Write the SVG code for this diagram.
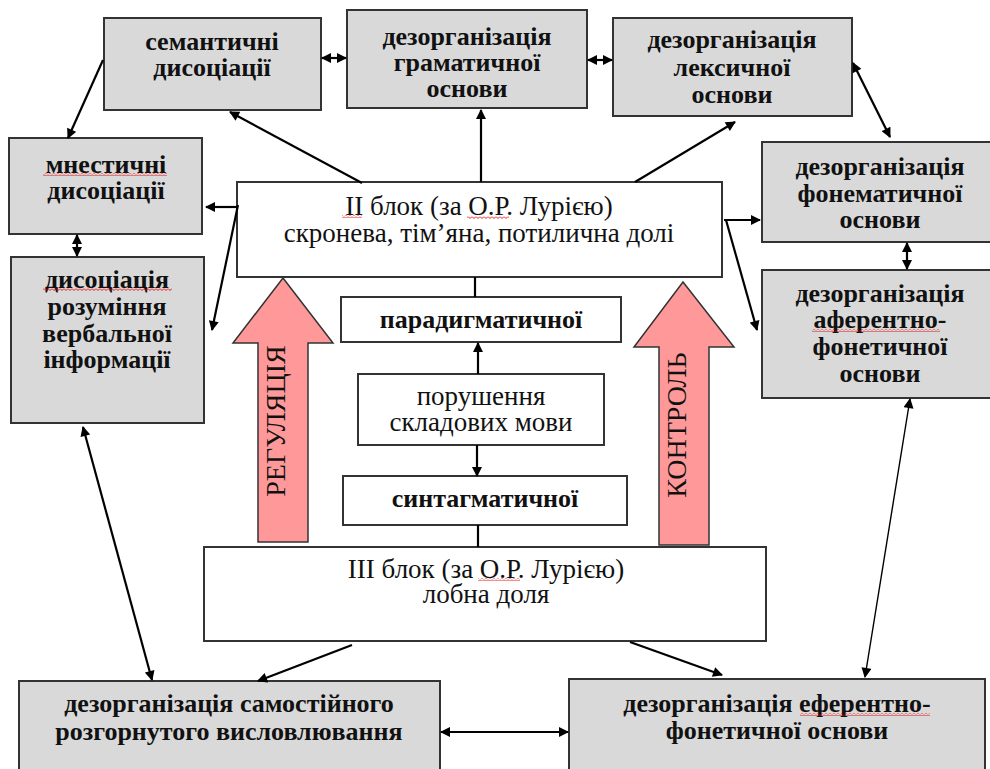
<svg xmlns="http://www.w3.org/2000/svg" width="990" height="769" viewBox="0 0 990 769">
<defs>
<marker id="ah" viewBox="0 0 10 10" refX="9" refY="5" markerWidth="11" markerHeight="10" markerUnits="userSpaceOnUse" orient="auto-start-reverse"><path d="M0,0 L10,5 L0,10 z" fill="#000"/></marker>
<pattern id="wave" width="4" height="3" patternUnits="userSpaceOnUse"><path d="M0,0.5 L2,2.5 L4,0.5" stroke="#e00" stroke-width="0.9" fill="none"/></pattern>
</defs>
<style>
.g{fill:#d9d9d9;stroke:#333;stroke-width:2}
.w{fill:#fff;stroke:#333;stroke-width:2}
.big{fill:#ff9999;stroke:#333;stroke-width:1.5}
.c line{stroke:#000;stroke-width:2.2;fill:none}
.c .thin{stroke-width:1.4}
.wv{fill:url(#wave)}
</style>

<g id="reg-arrow"><polygon class="big" points="283,278 333,343 308,343 308,542 258,542 258,343 233,343"/><text style="font-family:'Liberation Serif',serif;font-size:28px" fill="#111" text-anchor="middle" transform="translate(285,421) rotate(-90)">РЕГУЛЯЦІЯ</text></g>
<g id="ctrl-arrow"><polygon class="big" points="683,282 734,347 709,347 709,545 659,545 659,347 634,347"/><text style="font-family:'Liberation Serif',serif;font-size:28px" fill="#111" text-anchor="middle" transform="translate(686,425) rotate(-90)">КОНТРОЛЬ</text></g>

<g id="semantic" style="font-family:'Liberation Serif',serif;font-weight:bold;font-size:26px" fill="#111" text-anchor="middle"><rect class="g" x="104" y="18" width="217" height="92"/><text x="212" y="50">семантичні</text><text x="212" y="76">дисоціації</text></g>
<g id="grammar" style="font-family:'Liberation Serif',serif;font-weight:bold;font-size:26px" fill="#111" text-anchor="middle"><rect class="g" x="347" y="10" width="240" height="98"/><text x="467" y="45">дезорганізація</text><text x="467" y="71">граматичної</text><text x="467" y="97">основи</text></g>
<g id="lexical" style="font-family:'Liberation Serif',serif;font-weight:bold;font-size:26px" fill="#111" text-anchor="middle"><rect class="g" x="613" y="18" width="239" height="98"/><text x="732" y="48">дезорганізація</text><text x="732" y="76">лексичної</text><text x="732" y="103">основи</text></g>
<g id="mnestic" style="font-family:'Liberation Serif',serif;font-weight:bold;font-size:26px" fill="#111" text-anchor="middle"><rect class="g" x="9" y="138" width="193" height="96"/><text x="106" y="173">мнестичні</text><text x="106" y="199">дисоціації</text><rect class="wv" x="43" y="173" width="124" height="3"/></g>
<g id="comprehension" style="font-family:'Liberation Serif',serif;font-weight:bold;font-size:26px" fill="#111" text-anchor="middle"><rect class="g" x="11" y="257" width="193" height="166"/><text x="107" y="288">дисоціація</text><text x="107" y="315">розуміння</text><text x="107" y="342">вербальної</text><text x="107" y="368">інформації</text><rect class="wv" x="43" y="288" width="129" height="3"/></g>
<g id="phonematic" style="font-family:'Liberation Serif',serif;font-weight:bold;font-size:26px" fill="#111" text-anchor="middle"><rect class="g" x="762" y="142" width="240" height="100"/><text x="880" y="175">дезорганізація</text><text x="880" y="202">фонематичної</text><text x="880" y="228">основи</text></g>
<g id="afferent" style="font-family:'Liberation Serif',serif;font-weight:bold;font-size:26px" fill="#111" text-anchor="middle"><rect class="g" x="762" y="270" width="240" height="128"/><text x="880" y="302">дезорганізація</text><text x="880" y="328">аферентно-</text><text x="880" y="355">фонетичної</text><text x="880" y="382">основи</text><rect class="wv" x="812" y="329" width="128" height="3"/></g>
<g id="block2" style="font-family:'Liberation Serif',serif;font-size:27px" fill="#111" text-anchor="middle"><rect class="w" x="237" y="182" width="485" height="95"/><text x="479" y="215">II блок (за О.Р. Лурією)</text><text x="479" y="242">скронева, тім’яна, потилична долі</text><rect class="wv" x="342" y="215" width="20" height="3"/><rect class="wv" x="467" y="216" width="42" height="3"/></g>
<g id="paradigm" style="font-family:'Liberation Serif',serif;font-weight:bold;font-size:26px" fill="#111" text-anchor="middle"><rect class="w" x="341" y="297" width="280" height="45"/><text x="481" y="328">парадигматичної</text></g>
<g id="components" style="font-family:'Liberation Serif',serif;font-size:27px" fill="#111" text-anchor="middle"><rect class="w" x="358" y="374" width="246" height="71"/><text x="481" y="405">порушення</text><text x="481" y="431">складових мови</text></g>
<g id="syntagm" style="font-family:'Liberation Serif',serif;font-weight:bold;font-size:26px" fill="#111" text-anchor="middle"><rect class="w" x="343" y="476" width="284" height="49"/><text x="485" y="507">синтагматичної</text></g>
<g id="block3" style="font-family:'Liberation Serif',serif;font-size:27px" fill="#111" text-anchor="middle"><rect class="w" x="204" y="547" width="562" height="94"/><text x="486" y="578">III блок (за О.Р. Лурією)</text><text x="486" y="603">лобна доля</text><rect class="wv" x="478" y="578" width="42" height="3"/></g>
<g id="utterance" style="font-family:'Liberation Serif',serif;font-weight:bold;font-size:26px" fill="#111" text-anchor="middle"><rect class="g" x="19" y="681" width="421" height="100"/><text x="229" y="712">дезорганізація самостійного</text><text x="229" y="740">розгорнутого висловлювання</text></g>
<g id="efferent" style="font-family:'Liberation Serif',serif;font-weight:bold;font-size:26px" fill="#111" text-anchor="middle"><rect class="g" x="569" y="679" width="416" height="100"/><text x="777" y="712">дезорганізація еферентно-</text><text x="777" y="739">фонетичної основи</text><rect class="wv" x="800" y="713" width="130" height="3"/></g>

<g id="connectors" class="c">
<line x1="322" y1="58" x2="346" y2="58" marker-start="url(#ah)" marker-end="url(#ah)"/>
<line x1="588" y1="60" x2="612" y2="60" marker-start="url(#ah)" marker-end="url(#ah)"/>
<line x1="853" y1="63" x2="890" y2="137" marker-start="url(#ah)" marker-end="url(#ah)"/>
<line x1="103" y1="60" x2="68" y2="138" marker-end="url(#ah)"/>
<line x1="362" y1="183" x2="230" y2="112" marker-end="url(#ah)"/>
<line x1="481" y1="182" x2="481" y2="110" marker-end="url(#ah)"/>
<line x1="635" y1="182" x2="735" y2="122" marker-end="url(#ah)"/>
<line x1="238" y1="207" x2="206" y2="207" marker-end="url(#ah)"/>
<line x1="238" y1="205" x2="212" y2="330" marker-end="url(#ah)"/>
<line x1="77" y1="235" x2="77" y2="256" marker-start="url(#ah)" marker-end="url(#ah)"/>
<line x1="724" y1="220" x2="760" y2="220" marker-end="url(#ah)"/>
<line x1="726" y1="220" x2="757" y2="330" marker-end="url(#ah)"/>
<line x1="907" y1="243" x2="907" y2="269" marker-start="url(#ah)" marker-end="url(#ah)"/>
<line class="thin" x1="910" y1="399" x2="865" y2="677" marker-start="url(#ah)" marker-end="url(#ah)"/>
<line x1="83" y1="427" x2="152" y2="680" marker-start="url(#ah)" marker-end="url(#ah)"/>
<line x1="352" y1="645" x2="258" y2="681" marker-end="url(#ah)"/>
<line x1="630" y1="642" x2="722" y2="675" marker-end="url(#ah)"/>
<line x1="441" y1="732" x2="568" y2="732" marker-start="url(#ah)" marker-end="url(#ah)"/>
<line x1="475" y1="277" x2="475" y2="297"/>
<line x1="478" y1="374" x2="478" y2="343" marker-end="url(#ah)"/>
<line x1="477" y1="445" x2="477" y2="476" marker-end="url(#ah)"/>
<line x1="478" y1="525" x2="478" y2="547"/>
</g>
</svg>
